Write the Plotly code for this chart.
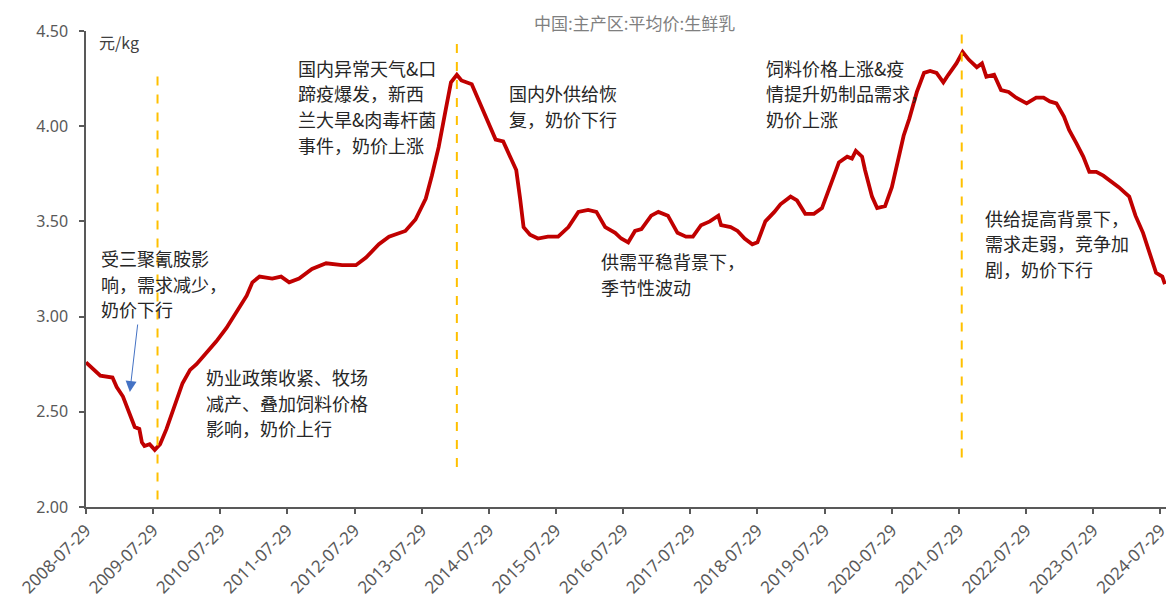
import plotly.graph_objects as go

# 中国主产区生鲜乳平均价（元/kg）
dates = [
    "2008-07-29", "2008-10-15", "2008-12-20",
    "2009-01-12", "2009-02-15", "2009-03-20", "2009-04-20", "2009-05-15", "2009-05-29",
    "2009-06-12", "2009-07-10", "2009-08-07", "2009-09-05", "2009-10-10", "2009-11-22",
    "2010-01-05", "2010-02-15", "2010-03-22", "2010-05-15", "2010-07-08", "2010-09-01",
    "2010-10-25", "2010-12-20",
    "2011-01-20", "2011-02-28", "2011-05-08", "2011-06-25", "2011-08-08", "2011-10-01", "2011-12-10",
    "2012-02-25", "2012-05-22", "2012-08-05", "2012-09-29", "2012-12-08",
    "2013-02-01", "2013-05-01", "2013-06-25", "2013-08-20", "2013-09-22", "2013-10-29", "2013-12-07",
    "2014-01-04", "2014-02-05", "2014-03-02", "2014-04-27", "2014-06-01", "2014-07-15",
    "2014-09-04", "2014-10-15", "2014-11-22", "2014-12-25",
    "2015-01-15", "2015-02-03", "2015-03-10", "2015-04-22", "2015-06-15", "2015-08-10",
    "2015-10-05", "2015-11-28",
    "2016-01-20", "2016-03-05", "2016-04-22", "2016-06-15", "2016-07-18", "2016-08-25",
    "2016-10-01", "2016-11-05", "2016-12-28",
    "2017-02-05", "2017-03-29", "2017-05-20", "2017-07-05", "2017-08-12", "2017-09-25",
    "2017-11-12", "2017-12-28",
    "2018-01-12", "2018-03-05", "2018-04-12", "2018-05-20", "2018-07-01", "2018-07-29",
    "2018-09-10", "2018-10-29", "2018-12-01",
    "2019-01-25", "2019-03-01", "2019-04-15", "2019-06-01", "2019-07-15", "2019-08-29",
    "2019-10-15", "2019-11-29", "2019-12-25",
    "2020-01-15", "2020-02-18", "2020-03-05", "2020-04-12", "2020-05-10", "2020-06-22",
    "2020-07-29", "2020-09-05", "2020-10-01", "2020-11-01", "2020-12-12",
    "2021-01-20", "2021-02-22", "2021-03-29", "2021-05-05", "2021-06-01", "2021-07-15",
    "2021-08-18", "2021-09-20", "2021-11-03", "2021-12-01", "2021-12-25",
    "2022-02-05", "2022-03-15", "2022-04-25", "2022-06-05", "2022-08-01", "2022-09-22",
    "2022-11-01", "2022-12-05",
    "2023-01-10", "2023-02-20", "2023-03-20", "2023-04-29", "2023-06-05", "2023-07-08",
    "2023-08-15", "2023-09-22", "2023-10-22", "2023-12-15",
    "2024-02-10", "2024-03-15", "2024-04-25", "2024-05-29", "2024-07-05", "2024-08-08", "2024-08-22",
]

prices = [
    2.76, 2.69, 2.68,
    2.63, 2.58, 2.49, 2.42, 2.41, 2.34, 2.32, 2.33, 2.30, 2.33, 2.41, 2.53,
    2.65, 2.72, 2.75, 2.81, 2.87, 2.94, 3.02, 3.11,
    3.18, 3.21, 3.20, 3.21, 3.18, 3.20, 3.25,
    3.28, 3.27, 3.27, 3.31, 3.38,
    3.42, 3.45, 3.51, 3.62, 3.74, 3.89, 4.09,
    4.23, 4.27, 4.24, 4.22, 4.14, 4.04, 3.93, 3.92, 3.84, 3.77,
    3.62, 3.47, 3.43, 3.41, 3.42, 3.42, 3.47, 3.55,
    3.56, 3.55, 3.47, 3.44, 3.41, 3.39, 3.45, 3.46, 3.53,
    3.55, 3.53, 3.44, 3.42, 3.42, 3.48, 3.50, 3.53,
    3.48, 3.47, 3.45, 3.41, 3.38, 3.39, 3.50, 3.55, 3.59,
    3.63, 3.61, 3.54, 3.54, 3.57, 3.69, 3.81, 3.84, 3.83,
    3.87, 3.84, 3.77, 3.63, 3.57, 3.58, 3.68, 3.84, 3.95, 4.04, 4.18,
    4.28, 4.29, 4.28, 4.23, 4.27, 4.33, 4.39, 4.35, 4.31, 4.33, 4.26,
    4.27, 4.19, 4.18, 4.15, 4.12, 4.15, 4.15, 4.13,
    4.12, 4.05, 3.98, 3.91, 3.84, 3.76, 3.76, 3.74, 3.72, 3.68,
    3.63, 3.53, 3.44, 3.34, 3.23, 3.21, 3.17,
]

tick_dates = [f"{y}-07-29" for y in range(2008, 2025)]
y_ticks = [2.0, 2.5, 3.0, 3.5, 4.0, 4.5]

# 关键节点（虚线）
event_dates = ["2009-08-22", "2014-02-05", "2021-08-13"]
event_low = [2.04, 2.21, 2.26]
event_high = [4.30, 4.47, 4.50]

# 文字说明：每行文字、左上角像素位置
notes = [
    (["受三聚氰胺影", "响，需求减少，", "奶价下行"], 99, 258),
    (["奶业政策收紧、牧场", "减产、叠加饲料价格", "影响，奶价上行"], 204, 377),
    (["国内异常天气&口", "蹄疫爆发，新西", "兰大旱&肉毒杆菌", "事件，奶价上涨"], 297, 68),
    (["国内外供给恢", "复，奶价下行"], 509, 93),
    (["供需平稳背景下，", "季节性波动"], 601, 261),
    (["饲料价格上涨&疫", "情提升奶制品需求，", "奶价上涨"], 767, 68),
    (["供给提高背景下，", "需求走弱，竞争加", "剧，奶价下行"], 986, 218),
]

W, H = 1176, 607
ML, MR, MT, MB = 86, 6, 31, 100
PW, PH = W - ML - MR, H - MT - MB


def paper(px, py):
    return (px - ML) / PW, (H - MB - py) / PH


CJK = "Noto Sans CJK SC"
AXIS_COLOR = "#595959"

fig = go.Figure()
fig.add_trace(go.Scatter(
    x=dates, y=prices, mode="lines",
    line=dict(color="#C00000", width=3.8),
    hoverinfo="x+y", showlegend=False,
))

for d, lo, hi in zip(event_dates, event_low, event_high):
    fig.add_shape(type="line", xref="x", yref="y", x0=d, x1=d, y0=lo, y1=hi,
                  line=dict(color="#FFC000", width=2, dash="dash"), layer="above")

annotations = []
for lines, lx, ty in notes:
    for i, t in enumerate(lines):
        x, y = paper(lx, ty + i * 25.5)
        annotations.append(dict(
            text=t, x=x, y=y, xref="paper", yref="paper",
            xanchor="left", yanchor="middle", showarrow=False,
            font=dict(family=CJK, size=18, color="#262626"),
        ))

# 标题与单位
tx, ty_ = paper(637, 22)
annotations.append(dict(text="中国:主产区:平均价:生鲜乳", x=tx, y=ty_, xref="paper", yref="paper",
                        xanchor="center", yanchor="middle", showarrow=False,
                        font=dict(family=CJK, size=17, color="#7F7F7F")))
ux, uy = paper(97, 42)
annotations.append(dict(text="元/kg", x=ux, y=uy, xref="paper", yref="paper",
                        xanchor="left", yanchor="middle", showarrow=False,
                        font=dict(family=CJK, size=16, color="#404040")))

# 指示箭头
hx, hy = paper(130, 392)
annotations.append(dict(text="", x=hx, y=hy, xref="paper", yref="paper",
                        ax=8, ay=-69, showarrow=True, arrowhead=2, arrowsize=2.2,
                        arrowwidth=1, arrowcolor="#4472C4"))

fig.update_layout(
    width=W, height=H,
    margin=dict(l=ML, r=MR, t=MT, b=MB, pad=0),
    paper_bgcolor="white", plot_bgcolor="white",
    annotations=annotations,
    xaxis=dict(
        type="date", range=["2008-07-29", "2024-08-28"],
        tickmode="array", tickvals=tick_dates, ticktext=tick_dates,
        tickangle=-45, ticks="outside", ticklen=5, tickwidth=1.5, tickcolor=AXIS_COLOR,
        showline=True, linecolor=AXIS_COLOR, linewidth=1.5, showgrid=False, zeroline=False,
        tickfont=dict(family="Noto Sans", size=17, color=AXIS_COLOR),
    ),
    yaxis=dict(
        range=[2.0, 4.5], tickmode="array", tickvals=y_ticks, tickformat=".2f",
        ticks="outside", ticklen=5, tickwidth=1.5, tickcolor=AXIS_COLOR,
        showline=True, linecolor=AXIS_COLOR, linewidth=1.5, showgrid=False, zeroline=False,
        ticklabelstandoff=8,
        tickfont=dict(family="Noto Sans", size=16, color=AXIS_COLOR),
    ),
)

fig.write_html("out.html")
